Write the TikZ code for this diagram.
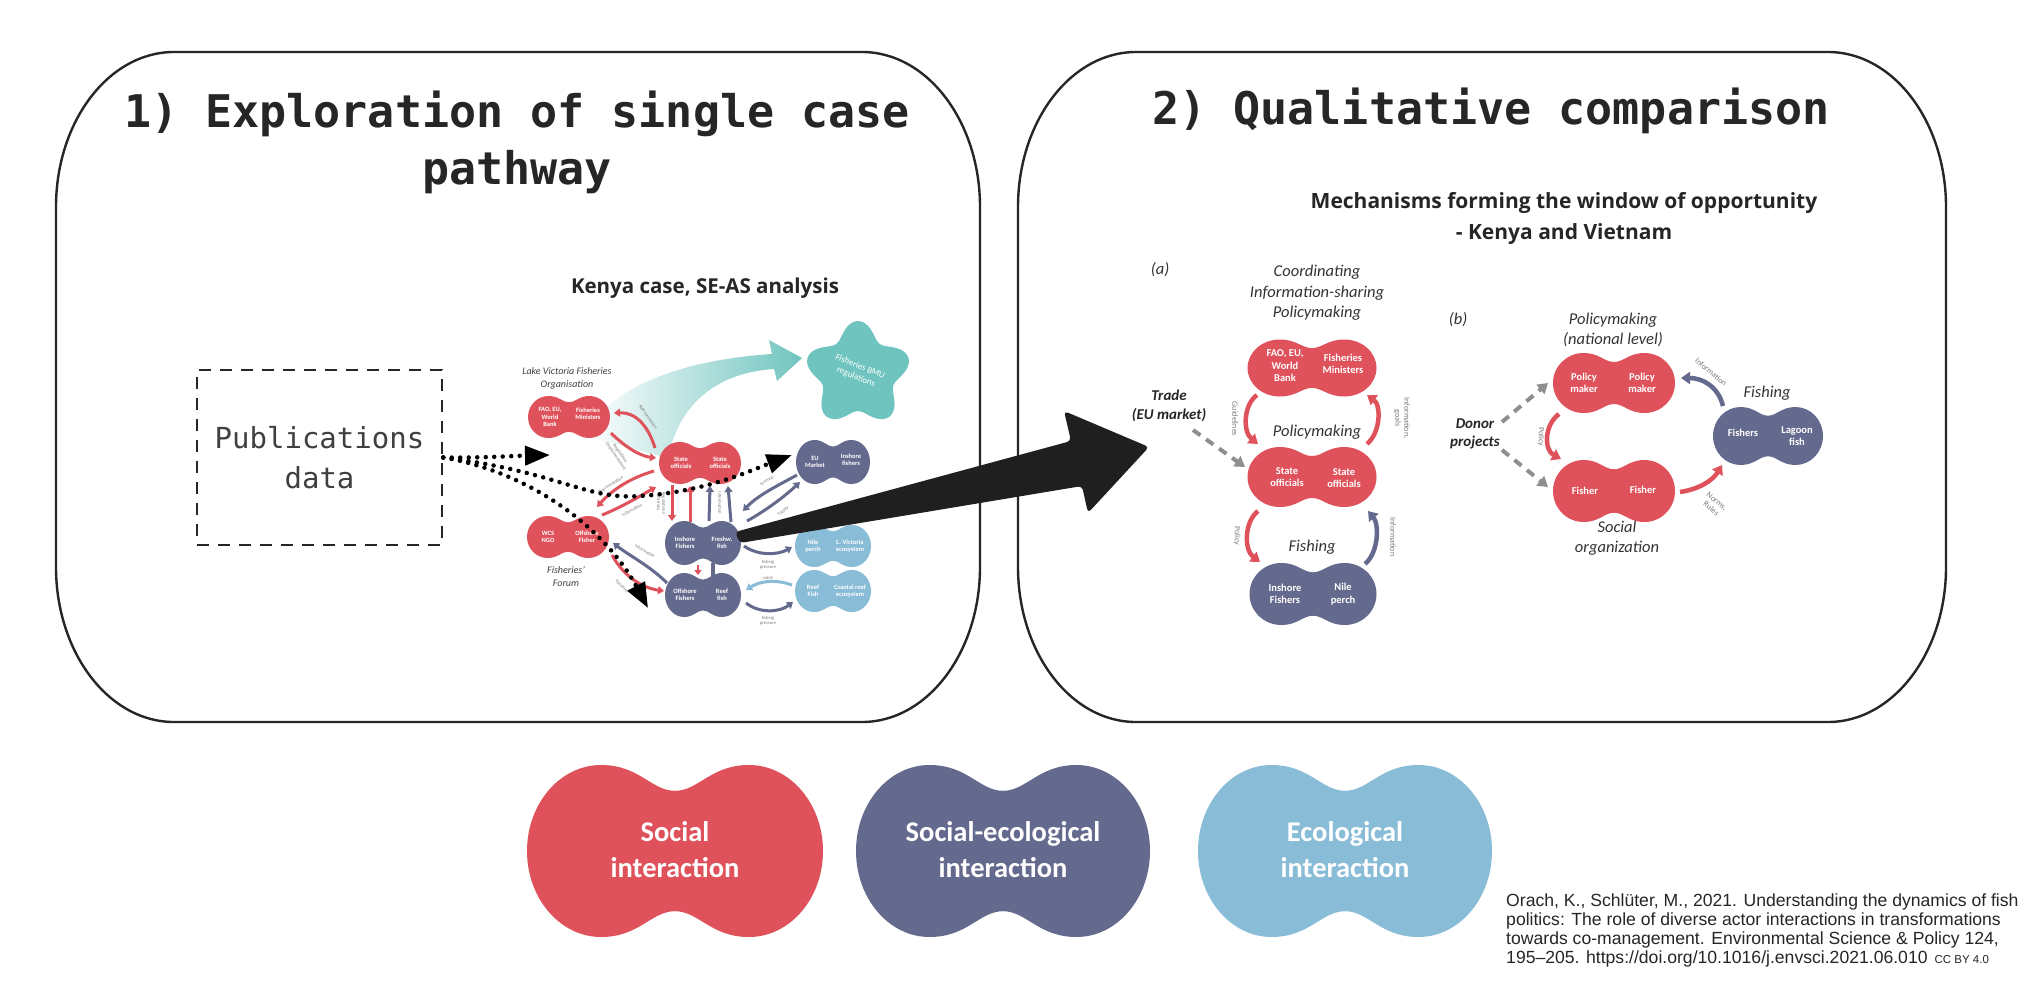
\documentclass[tikz,border=0pt]{standalone}
\usepackage{fontspec}
\setmainfont{Carlito}
\newfontfamily\titlemono{DejaVu Sans Mono}
\newfontfamily\headsans{Open Sans}
\newfontfamily\citefont{Liberation Sans}
\usetikzlibrary{arrows.meta}

\definecolor{sred}{HTML}{E0525B}
\definecolor{sepur}{HTML}{646A8D}
\definecolor{ecob}{HTML}{89BCD7}
\definecolor{tealc}{HTML}{70C4BF}
\definecolor{dgray}{HTML}{8E8E8E}
\definecolor{lblgray}{HTML}{7A7A7A}

\newcommand{\Peanut}[6]{%
  \fill[#2, shift={(#3pt,-#4pt)}, x=#5pt, y=#6pt]
    (0,0.7) .. controls (0.16,0.7) and (0.24,1) .. (0.5,1)
    .. controls (0.776,1) and (1,0.552) .. (1,0)
    .. controls (1,-0.552) and (0.776,-1) .. (0.5,-1)
    .. controls (0.24,-1) and (0.16,-0.7) .. (0,-0.7)
    .. controls (-0.16,-0.7) and (-0.24,-1) .. (-0.5,-1)
    .. controls (-0.776,-1) and (-1,-0.552) .. (-1,0)
    .. controls (-1,0.552) and (-0.776,1) .. (-0.5,1)
    .. controls (-0.24,1) and (-0.16,0.7) .. (0,0.7) -- cycle;
  \path (#3,#4) node[inner sep=0pt, minimum width=2*#5pt, minimum height=2*#6pt] (#1) {};
}

\tikzset{
 panel/.style={draw=black!85, line width=2.4pt},
 ttl/.style={font=\titlemono\bfseries\fontsize{45}{57}\selectfont, text=black!85, align=center},
 kt/.style={font=\bfseries\fontsize{6.5}{7.3}\selectfont, text=white, align=center, inner sep=0pt},
 atxt/.style={font=\bfseries\fontsize{10.5}{12.5}\selectfont, text=white, align=center, inner sep=0pt},
 legt/.style={font=\bfseries\fontsize{28.5}{36}\selectfont, text=white, align=center, inner sep=0pt},
 hit/.style={font=\itshape\fontsize{16.5}{20.5}\selectfont, text=black!80, align=center, inner sep=0pt},
 kit/.style={font=\itshape\fontsize{10}{13}\selectfont, text=black!75, align=center, inner sep=0pt},
 bit/.style={font=\bfseries\itshape\fontsize{15}{18.5}\selectfont, text=black!85, align=center, inner sep=0pt},
 albl/.style={font=\fontsize{8}{9}\selectfont, text=lblgray, align=center, inner sep=0pt},
 klbl/.style={font=\fontsize{4.6}{5.2}\selectfont, text=lblgray, align=center, inner sep=0pt},
 karr/.style={line width=3pt, -{Triangle[length=6pt,width=8pt]}},
 aarr/.style={line width=4.5pt, -{Triangle[length=9pt,width=12pt]}},
 dasharr/.style={draw=dgray, line width=4pt, dash pattern=on 9pt off 7pt, -{Triangle[length=10pt,width=12pt]}},
 dotarr/.style={draw=black, line width=4.5pt, line cap=round, dash pattern=on 0pt off 8.5pt, -{Triangle[length=25pt,width=19pt]}},
}

\begin{document}
\begin{tikzpicture}[x=1pt,y=-1pt]
\useasboundingbox (0,0) rectangle (2034,988);
\fill[white] (0,0) rectangle (2034,988);

% ---------- panels
\draw[panel] (174,52) -- (862,52) arc[start angle=-90, end angle=0, x radius=118, y radius=155]
  -- (980,567) arc[start angle=0, end angle=90, x radius=118, y radius=155]
  -- (174,722) arc[start angle=90, end angle=180, x radius=118, y radius=155]
  -- (56,207) arc[start angle=180, end angle=270, x radius=118, y radius=155] -- cycle;
\draw[panel] (1136,52) -- (1828,52) arc[start angle=-90, end angle=0, x radius=118, y radius=155]
  -- (1946,567) arc[start angle=0, end angle=90, x radius=118, y radius=155]
  -- (1136,722) arc[start angle=90, end angle=180, x radius=118, y radius=155]
  -- (1018,207) arc[start angle=180, end angle=270, x radius=118, y radius=155] -- cycle;

\node[ttl] (t1) at (517,142) {1) Exploration of single case\\pathway};
\node[ttl] (t2) at (1491,111) {2) Qualitative comparison};

% ---------- publications box
\node[draw=black!85, line width=2.5pt, dash pattern=on 12pt off 9pt, minimum width=245pt, minimum height=175pt,
      font=\titlemono\fontsize{29}{40}\selectfont, text=black!75, align=center] (pub) at (319.5,457.5) {Publications\\data};

% ---------- Kenya case
\node[font=\headsans\bfseries\fontsize{20.5}{25}\selectfont, text=black!85] (kenya) at (705,288) {Kenya case, SE-AS analysis};

\shade[left color=white, middle color=tealc!45, right color=tealc]
  (585,436) .. controls (607,388) and (680,360) .. (772,354) -- (769,340) -- (802,358) -- (777,381) -- (774,369)
  .. controls (725,372) and (680,397) .. (668,458) -- cycle;
\fill[tealc] plot[smooth cycle, samples=60, domain=0:354]
  ({858+(45+8*cos(5*(\x-90)))*cos(\x)},{374-(45+8*cos(5*(\x-90)))*sin(\x)});
\node[font=\fontsize{9}{11}\selectfont, text=white, rotate=-22, align=center] (kstar) at (858,372) {Fisheries BMU\\regulations};

\Peanut{lvfo}{sred}{569}{417}{41}{21}
\Peanut{kso}{sred}{700}{463}{41}{21}
\Peanut{fforum}{sred}{568}{537}{41}{21}
\Peanut{kinf}{sepur}{703}{543}{38}{22}
\Peanut{koff}{sepur}{703}{595}{38}{22}
\Peanut{keu}{sepur}{833}{462}{37}{22}
\Peanut{knile}{ecob}{833}{546}{38}{21}
\Peanut{kreef}{ecob}{833}{591}{38}{21}

\node[kt] (lvfoL) at ([shift={(-19,0)}]lvfo.center) {FAO, EU,\\World\\Bank};
\node[kt] (lvfoR) at ([shift={(19,-3)}]lvfo.center) {Fisheries\\Ministers};
\node[kt] (ksoL) at ([shift={(-19,0)}]kso.center) {State\\officials};
\node[kt] (ksoR) at ([shift={(20,0)}]kso.center) {State\\officials};
\node[kt] (ffL) at ([shift={(-20,0)}]fforum.center) {WCS\\NGO};
\node[kt] (ffR) at ([shift={(19,0)}]fforum.center) {Offshore\\Fisher};
\node[kt] (kinfL) at ([shift={(-18,0)}]kinf.center) {Inshore\\Fishers};
\node[kt] (kinfR) at ([shift={(19,0)}]kinf.center) {Freshw.\\fish};
\node[kt] (koffL) at ([shift={(-18,0)}]koff.center) {Offshore\\Fishers};
\node[kt] (koffR) at ([shift={(19,0)}]koff.center) {Reef\\fish};
\node[kt] (keuL) at ([shift={(-18,0)}]keu.center) {EU\\Market};
\node[kt] (keuR) at ([shift={(18,-2)}]keu.center) {Inshore\\fishers};
\node[kt] (knileL) at ([shift={(-20,0)}]knile.center) {Nile\\perch};
\node[kt] (knileR) at ([shift={(17,0)}]knile.center) {L. Victoria\\ecosystem};
\node[kt] (kreefL) at ([shift={(-20,0)}]kreef.center) {Reef\\Fish};
\node[kt] (kreefR) at ([shift={(17,0)}]kreef.center) {Coastal reef\\ecosystem};

\node[kit] (lvfolab) at (567,378) {Lake Victoria Fisheries\\Organisation};
\node[kit] (fflab) at (566,577) {Fisheries'\\Forum};

% Kenya connectors
\draw[karr, sred] ([shift={(-45,-15)}]kso.center) .. controls (648,425) and (635,412) .. ([shift={(45,-4)}]lvfo.center);
\node[klbl, rotate=-55] (r1l) at (648,417) {Representation};
\draw[karr, sred] ([shift={(42,16)}]lvfo.center) .. controls (625,447) and (640,456) .. ([shift={(-44,-5)}]kso.center);
\node[klbl, rotate=-55] (r2l) at (618,455) {Regulations\\(Implementation)};
\draw[karr, sred] ([shift={(-46,8)}]kso.center) .. controls (630,478) and (612,490) .. ([shift={(29,-30)}]fforum.center);
\node[klbl, rotate=32] (r3l) at (611,485) {Representation};
\draw[karr, sred] ([shift={(34,-22)}]fforum.center) .. controls (622,507) and (640,496) .. ([shift={(-44,24)}]kso.center);
\node[klbl, rotate=28] (r4l) at (632,510) {Information};
\draw[karr, sred] ([shift={(-28,22)}]kso.center) -- ([shift={(-31,-22)}]kinf.center);
\node[klbl, rotate=-90] (r5l) at (661,503) {Regulations\\(Patrols)};
\draw[karr, sred] ([shift={(-13,-21)}]kinf.center) -- ([shift={(-10,23)}]kso.center);
\draw[karr, sepur] ([shift={(6,-22)}]kinf.center) -- ([shift={(10,23)}]kso.center);
\draw[karr, sepur] ([shift={(28,-21)}]kinf.center) -- ([shift={(28,23)}]kso.center);
\node[klbl, rotate=-90] (p1l) at (720,503) {Information};
\draw[karr, sepur] ([shift={(-36,13)}]keu.center) .. controls (775,487) and (757,496) .. ([shift={(40,-32)}]kinf.center);
\node[klbl, rotate=32] (p2l) at (767,481) {revenue};
\draw[karr, sepur] ([shift={(44,-22)}]kinf.center) .. controls (765,511) and (784,497) .. ([shift={(-33,20)}]keu.center);
\node[klbl, rotate=32] (p3l) at (783,511) {supply};
\draw[karr, sepur] ([shift={(41,3)}]kinf.center) .. controls (758,556) and (778,555) .. ([shift={(-41,1)}]knile.center);
\node[klbl] (p4l) at (768,565) {fishing\\pressure};
\node[klbl] (b1l) at (768,578) {catch};
\draw[karr, ecob] ([shift={(-41,-6)}]kreef.center) .. controls (775,579) and (760,581) .. ([shift={(43,-5)}]koff.center);
\draw[karr, sepur] ([shift={(43,8)}]koff.center) .. controls (760,614) and (780,612) .. ([shift={(-40,11)}]kreef.center);
\node[klbl] (p5l) at (768,621) {fishing\\pressure};
\draw[karr, sepur] ([shift={(-36,-12)}]koff.center) .. controls (650,566) and (630,556) .. ([shift={(45,6)}]fforum.center);
\node[klbl, rotate=-30] (p6l) at (645,551) {Information};
\draw[karr, sred] ([shift={(44,18)}]fforum.center) .. controls (624,577) and (643,588) .. ([shift={(-39,-4)}]koff.center);
\node[klbl, rotate=-45] (r6l) at (622,586) {Revenue};
\draw[line width=2.5pt, sred, -{Triangle[length=5pt,width=7pt]}] ([shift={(-5,22)}]kinf.center) -- ([shift={(-5,-20)}]koff.center);
\draw[line width=4pt, sepur, line cap=round] ([shift={(10,21)}]kinf.center) -- ([shift={(10,-19)}]koff.center);

% dotted arrows
\coordinate (d1end) at (550,455);
\coordinate (d3end) at (648,608);
\draw[dotarr] (pub.east) .. controls (480,458) and (510,456) .. (d1end);
\draw[dotarr] (pub.east) .. controls (560,472) and (585,500) .. (640,496) .. controls (705,492) and (752,470) .. ([shift={(-4,-7)}]keu.west);
\draw[dotarr] (pub.east) .. controls (530,472) and (605,528) .. (d3end);

% ---------- right panel content
\node[font=\headsans\bfseries\fontsize{21}{31}\selectfont, text=black!85, align=center] (mech) at (1564,218) {Mechanisms forming the window of opportunity\\- Kenya and Vietnam};

% (a)
\node[hit] (alab) at (1160,270) {(a)};
\node[hit] (acoord) at (1317,293) {Coordinating\\Information-sharing\\Policymaking};
\Peanut{afao}{sred}{1312}{368}{64.5}{28.5}
\node[atxt] (afaoL) at ([shift={(-27,-2)}]afao.center) {FAO, EU,\\World\\Bank};
\node[atxt] (afaoR) at ([shift={(31,-4)}]afao.center) {Fisheries\\Ministers};
\node[hit] (apol) at (1317,432) {Policymaking};
\Peanut{aso}{sred}{1312}{477}{64.5}{30}
\node[atxt] (asoL) at ([shift={(-25,0)}]aso.center) {State\\officials};
\node[atxt] (asoR) at ([shift={(32,1)}]aso.center) {State\\officials};
\node[hit] (afish) at (1312,547) {Fishing};
\Peanut{ainf}{sepur}{1313}{594}{63.5}{31}
\node[atxt] (ainfL) at ([shift={(-28,0)}]ainf.center) {Inshore\\Fishers};
\node[atxt] (ainfR) at ([shift={(30,0)}]ainf.center) {Nile\\perch};
\node[bit] (trade) at (1169,406) {Trade\\(EU market)};

\draw[aarr, sred] ([shift={(-55,27)}]afao.center) .. controls (1243,405) and (1243,432) .. ([shift={(-54,-33)}]aso.center);
\node[albl, rotate=-90] (aguid) at (1235,419) {Guidelines};
\draw[aarr, sred] ([shift={(55,-33)}]aso.center) .. controls (1381,432) and (1381,405) .. ([shift={(55,27)}]afao.center);
\node[albl, rotate=-90] (ainfog) at (1402,418) {Information,\\goals};
\draw[aarr, sred] ([shift={(-54,34)}]aso.center) .. controls (1244,522) and (1244,550) .. ([shift={(-53,-32)}]ainf.center);
\node[albl, rotate=-90] (apolicy) at (1237,536) {Policy};
\draw[aarr, sepur] ([shift={(52,-30)}]ainf.center) .. controls (1379,552) and (1379,524) .. ([shift={(56,34)}]aso.center);
\node[albl, rotate=-90] (ainfo) at (1393,537) {Information};
\draw[dasharr] ([shift={(24,24)}]trade.center) -- ([shift={(-67,-10)}]aso.center);

% (b)
\node[hit] (blab) at (1458,320) {(b)};
\node[hit] (bpmlab) at (1613,330) {Policymaking\\(national level)};
\Peanut{bpm}{sred}{1614}{383}{61}{30}
\node[atxt] (bpmL) at ([shift={(-30,0)}]bpm.center) {Policy\\maker};
\node[atxt] (bpmR) at ([shift={(28,0)}]bpm.center) {Policy\\maker};
\Peanut{bfish}{sred}{1614}{491}{61}{31}
\node[atxt] (bfishL) at ([shift={(-29,0)}]bfish.center) {Fisher};
\node[atxt] (bfishR) at ([shift={(29,-1)}]bfish.center) {Fisher};
\node[hit] (bsoc) at (1617,538) {Social\\organization};
\Peanut{bfl}{sepur}{1768}{436}{55}{29}
\node[atxt] (bflL) at ([shift={(-25,-3)}]bfl.center) {Fishers};
\node[atxt] (bflR) at ([shift={(29,0)}]bfl.center) {Lagoon\\fish};
\node[hit] (bfishing) at (1767,393) {Fishing};
\node[bit] (donor) at (1475,434) {Donor\\projects};

\draw[dasharr] ([shift={(27,-12)}]donor.center) -- ([shift={(-66,0)}]bpm.center);
\draw[dasharr] ([shift={(27,16)}]donor.center) -- ([shift={(-66,-4)}]bfish.center);
\draw[aarr, sred] ([shift={(-55,31)}]bpm.center) .. controls (1544,425) and (1544,450) .. ([shift={(-53,-32)}]bfish.center);
\node[albl, rotate=-90] (bpolicy) at (1541,437) {Policy};
\draw[aarr, sepur] ([shift={(-45,-30)}]bfl.center) .. controls (1718,386) and (1702,378) .. ([shift={(67,-5)}]bpm.center);
\node[albl, rotate=-40] (binfo) at (1711,372) {Information};
\draw[aarr, sred] ([shift={(66,1)}]bfish.center) .. controls (1700,489) and (1713,480) .. ([shift={(-46,29)}]bfl.center);
\node[albl, rotate=-40] (bnorms) at (1714,505) {Norms,\\Rules};

% ---------- big arrow
\fill[black!88, rounded corners=4pt] (735,532) -- (1071,441) -- (1064,411) -- (1149,447) -- (1088,513) -- (1082,486) -- (740,543) -- cycle;

% ---------- legend
\Peanut{lsoc}{sred}{675}{851}{148}{86}
\node[legt] (lsoct) at (675,850) {Social\\interaction};
\Peanut{lse}{sepur}{1003}{851}{147}{86}
\node[legt] (lset) at (1003,850) {Social-ecological\\interaction};
\Peanut{leco}{ecob}{1345}{851}{147}{86}
\node[legt] (lecot) at (1345,850) {Ecological\\interaction};

% ---------- citation
\node[font=\citefont\fontsize{17.6}{18.7}\selectfont, text=black!85, align=left, anchor=north west, inner sep=0pt] (cite) at (1506,894)
 {Orach, K., Schlüter, M., 2021. Understanding the dynamics of fish\\politics: The role of diverse actor interactions in transformations\\towards co-management. Environmental Science \& Policy 124,\\195–205. https://doi.org/10.1016/j.envsci.2021.06.010\hspace{7pt}{\fontsize{11.5}{12}\selectfont CC BY 4.0}};
\end{tikzpicture}
\end{document}
